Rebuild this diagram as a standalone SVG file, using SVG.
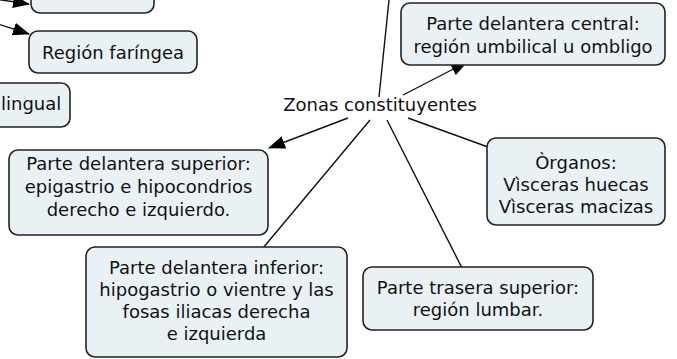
<svg xmlns="http://www.w3.org/2000/svg" width="677" height="359" viewBox="0 0 677 359">
<style>
.box{fill:#eaf1f5;stroke:#222;stroke-width:1.6}
.t{font-family:"DejaVu Sans",Verdana,sans-serif;font-size:18px;fill:#111;text-anchor:middle}
.c{stroke:#111;stroke-width:1.4;fill:none}
</style>
<defs>
<marker id="ah" viewBox="0 0 17 13" refX="16" refY="6.5" markerWidth="17" markerHeight="13" markerUnits="userSpaceOnUse" orient="auto">
<path d="M0,0 L17,6.5 L0,13 z" fill="#000"/>
</marker>
</defs>
<rect width="677" height="359" fill="#fff"/>
<g id="connectors">
<line class="c" x1="-5" y1="-1" x2="29" y2="4" marker-end="url(#ah)"/>
<line class="c" x1="-5" y1="23" x2="29" y2="34" marker-end="url(#ah)"/>
<line class="c" x1="389" y1="0" x2="379" y2="97"/>
<line class="c" x1="403" y1="95" x2="467" y2="62" marker-end="url(#ah)"/>
<line class="c" x1="348" y1="118" x2="269" y2="148" marker-end="url(#ah)"/>
<line class="c" x1="370" y1="120" x2="263" y2="248"/>
<line class="c" x1="387" y1="120" x2="462" y2="268"/>
<line class="c" x1="408" y1="118" x2="488" y2="147"/>
</g>
<g id="n-top">
<rect class="box" x="31" y="-30" width="123" height="43" rx="9"/>
</g>
<g id="n-faringea">
<rect class="box" x="29" y="31" width="168" height="42" rx="9"/>
<text class="t" x="113" y="59">Región faríngea</text>
</g>
<g id="n-lingual">
<rect class="box" x="-20" y="83" width="90" height="44" rx="9"/>
<text class="t" x="1" y="110" style="text-anchor:start">lingual</text>
</g>
<g id="n-zonas">
<text class="t" x="380" y="111">Zonas constituyentes</text>
</g>
<g id="n-central">
<rect class="box" x="401" y="3" width="264" height="62" rx="9"/>
<text class="t" x="533" y="30">Parte delantera central:</text>
<text class="t" x="533" y="53">región umbilical u ombligo</text>
</g>
<g id="n-superior">
<rect class="box" x="9" y="150" width="259" height="85" rx="9"/>
<text class="t" x="138.5" y="170">Parte delantera superior:</text>
<text class="t" x="138.5" y="193">epigastrio e hipocondrios</text>
<text class="t" x="138.5" y="216">derecho e izquierdo.</text>
</g>
<g id="n-organos">
<rect class="box" x="487" y="138" width="178" height="87" rx="9"/>
<text class="t" x="576" y="169">Òrganos:</text>
<text class="t" x="576" y="191">Vìsceras huecas</text>
<text class="t" x="576" y="213">Vìsceras macizas</text>
</g>
<g id="n-inferior">
<rect class="box" x="86" y="247" width="261" height="110" rx="9"/>
<text class="t" x="216.5" y="274">Parte delantera inferior:</text>
<text class="t" x="216.5" y="296">hipogastrio o vientre y las</text>
<text class="t" x="216.5" y="318">fosas iliacas derecha</text>
<text class="t" x="216.5" y="340">e izquierda</text>
</g>
<g id="n-trasera">
<rect class="box" x="363" y="267" width="230" height="63" rx="9"/>
<text class="t" x="478" y="294">Parte trasera superior:</text>
<text class="t" x="478" y="316">región lumbar.</text>
</g>
</svg>
